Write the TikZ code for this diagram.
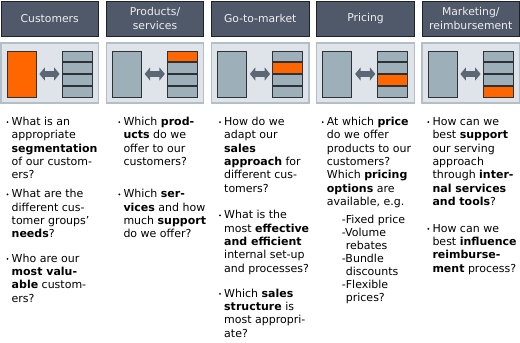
\documentclass[tikz,border=0pt]{standalone}
\usepackage{fontspec}
\setmainfont{DejaVu Sans}
\usetikzlibrary{arrows.meta}
\definecolor{hdr}{HTML}{4F5969}
\definecolor{hdrline}{HTML}{1F2228}
\definecolor{panel}{HTML}{DEE4E9}
\definecolor{panelline}{HTML}{B3BEC7}
\definecolor{blk}{HTML}{9DAFB9}
\definecolor{blkline}{HTML}{2E3236}
\definecolor{org}{HTML}{FF6600}
\definecolor{arr}{HTML}{5B6774}
\definecolor{hdrtext}{HTML}{EEEEEE}

\newcommand\mypara[4]{%
  \node[bul] (#1b) at ({#2-4},{#3-3.4}) {};
  \foreach \s [count=\n from 0] in {#4} {\node[txt] (#1l\n) at ({#2},{#3+13.3*\n}) {\s};}}
\newcommand\mylist[4]{%
  \foreach \s [count=\n from 0] in {#4} {\node[txt] (#1l\n) at ({#2},{#3+12.9*\n}) {\s};}}

\begin{document}
\begin{tikzpicture}[x=1pt,y=-1pt,
  hdrbox/.style={draw=hdrline, line width=0.8pt, fill=hdr, minimum width=97.5pt, minimum height=35pt,
    inner sep=0pt, text=hdrtext, font=\fontsize{10.8}{13.3}\selectfont, align=center},
  panelbox/.style={draw=panelline, line width=1.2pt, fill=panel, minimum width=97.5pt, minimum height=60pt, inner sep=0pt},
  big/.style={draw=blkline, line width=0.8pt, minimum width=29pt, minimum height=46pt, inner sep=0pt},
  bar/.style={draw=blkline, line width=0.8pt, minimum width=30pt, minimum height=10.5pt, inner sep=0pt},
  dbl/.style={draw=arr, line width=5.5pt, <->, >={Triangle[width=13pt,length=5.5pt]}, shorten <=3pt, shorten >=2pt},
  txt/.style={anchor=base west, inner sep=0pt, font=\fontsize{11}{13.3}\selectfont},
  bul/.style={circle, fill=black, inner sep=0pt, minimum size=2.1pt}
]
\useasboundingbox (0,0) rectangle (520,343);

\foreach \htext [count=\k] in {{Customers},{Products/\\services},{Go-to-market},{Pricing},{Marketing/\\reimbursement}} {
  \pgfmathsetmacro\L{1+105.25*(\k-1)}
  \node[hdrbox] (h\k) at ({\L+48.75},18.5) {\htext};
  \node[panelbox] (p\k) at ({\L+48.75},73) {};
  \ifnum\k=1 \def\fc{org}\else\def\fc{blk}\fi
  \node[big, fill=\fc] (g\k) at ({\L+20.5},74) {};
  \pgfmathtruncatemacro\hot{\k-1}
  \foreach \j/\yy in {1/56.25,2/68.05,3/79.95,4/91.75} {
    \ifnum\j=\hot \def\fc{org}\else\def\fc{blk}\fi
    \node[bar, fill=\fc] (b\k c\j) at ({\L+76},\yy) {};
  }
  \draw[dbl] (g\k.east) -- (g\k.east -| b\k c1.west);
}

% Column 1
\mypara{a1}{11.5}{125.5}{{What is an},{appropriate},{\textbf{segmentation}},{of our custom-},{ers?}}
\mypara{a2}{11.5}{197.8}{{What are the},{different cus-},{tomer groups’},{\textbf{needs}?}}
\mypara{a3}{11.5}{262.2}{{Who are our},{\textbf{most valu-}},{\textbf{able} custom-},{ers?}}
% Column 2
\mypara{b1}{123.3}{125.5}{{Which \textbf{prod-}},{\textbf{ucts} do we},{offer to our},{customers?}}
\mypara{b2}{123.3}{197.8}{{Which \textbf{ser-}},{\textbf{vices} and how},{much \textbf{support}},{do we offer?}}
% Column 3
\mypara{c1}{224}{125.5}{{How do we},{adapt our},{\textbf{sales}},{\textbf{approach} for},{different cus-},{tomers?}}
\mypara{c2}{224}{218.8}{{What is the},{most \textbf{effective}},{\textbf{and efficient}},{internal set-up},{and processes?}}
\mypara{c3}{224}{297.2}{{Which \textbf{sales}},{\textbf{structure} is},{most appropri-},{ate?}}
% Column 4
\mypara{d1}{326.7}{125.5}{{At which \textbf{price}},{do we offer},{products to our},{customers?},{Which \textbf{pricing}},{\textbf{options} are},{available, e.g.}}
\mylist{d2}{341.7}{223.8}{{-Fixed price},{-Volume},{\phantom{-}rebates},{-Bundle},{\phantom{-}discounts},{-Flexible},{\phantom{-}prices?}}
% Column 5
\mypara{e1}{432.3}{125.5}{{How can we},{best \textbf{support}},{our serving},{approach},{through \textbf{inter-}},{\textbf{nal services}},{\textbf{and tools}?}}
\mypara{e2}{432.3}{232.2}{{How can we},{best \textbf{influence}},{\textbf{reimburse-}},{\textbf{ment} process?}}
\end{tikzpicture}
\end{document}
